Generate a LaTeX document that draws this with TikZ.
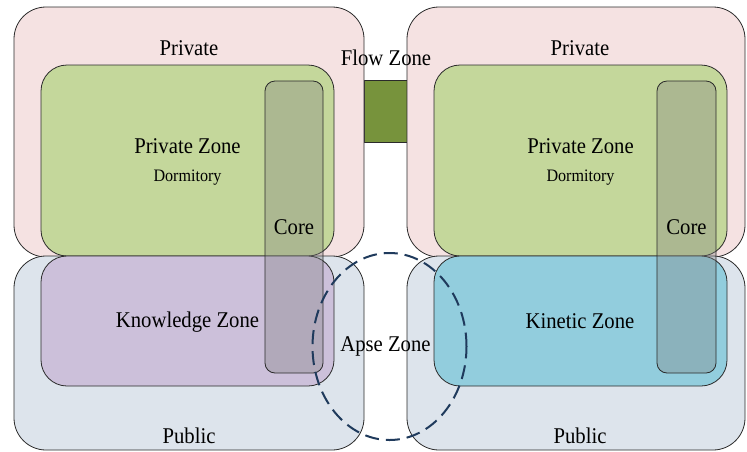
\documentclass[tikz,border=0pt]{standalone}
\usepackage{fontspec}
\setmainfont[FakeStretch=0.92]{Liberation Serif}
\usetikzlibrary{positioning,shapes.geometric}
\definecolor{pinkfill}{HTML}{F5E2E2}
\definecolor{publicfill}{HTML}{DDE4EC}
\definecolor{greenfill}{HTML}{C4D79B}
\definecolor{purplefill}{HTML}{CCC0DA}
\definecolor{kineticfill}{HTML}{92CDDD}
\definecolor{flowfill}{HTML}{77933C}
\definecolor{apsecol}{HTML}{1F3A5C}
\definecolor{edgecol}{HTML}{2A2A2A}
\tikzset{
  zonebox/.style={draw=edgecol, line width=0.8pt, rectangle, inner sep=0pt},
  outerbox/.style={zonebox, rounded corners=32pt},
  innerbox/.style={zonebox, rounded corners=26pt},
  corebox/.style={zonebox, rounded corners=10pt, fill=black!50, fill opacity=0.35},
  lbl/.style={font=\fontsize{22.5}{26}\selectfont, inner sep=0pt, text=black},
  sublbl/.style={font=\fontsize{17.5}{20}\selectfont, inner sep=0pt, text=black},
  apse/.style={draw=apsecol, line width=2pt, dash pattern=on 14pt off 7pt}
}
\begin{document}
\begin{tikzpicture}[x=1pt,y=-1pt]
\useasboundingbox (0,0) rectangle (747,451);
% flow zone connector
\node[zonebox, fill=flowfill, minimum width=43pt, minimum height=62pt] (flow) at (385.5,111) {};
% outer boxes
\node[outerbox, fill=pinkfill, minimum width=350pt, minimum height=250pt] (privL) at (189,132) {};
\node[outerbox, fill=pinkfill, minimum width=338pt, minimum height=250pt] (privR) at (576,132) {};
\node[outerbox, fill=publicfill, minimum width=350pt, minimum height=194pt] (pubL) at (189,353) {};
\node[outerbox, fill=publicfill, minimum width=338pt, minimum height=194pt] (pubR) at (576,353) {};
% inner zones
\node[innerbox, fill=greenfill, minimum width=293pt, minimum height=191pt] (greenL) at (187.5,160.5) {};
\node[innerbox, fill=greenfill, minimum width=293pt, minimum height=191pt] (greenR) at (580.5,160.5) {};
\node[innerbox, fill=purplefill, minimum width=293pt, minimum height=130pt] (know) at (187.5,321) {};
\node[innerbox, fill=kineticfill, minimum width=293pt, minimum height=130pt] (kin) at (580.5,321) {};
% cores
\node[corebox, minimum width=58pt, minimum height=292pt] (coreL) at (294,227) {};
\node[corebox, minimum width=59pt, minimum height=292pt] (coreR) at (686.5,227) {};
% apse zone
\node[apse, ellipse, minimum width=154pt, minimum height=187pt, inner sep=0pt] (apseEl) at (389.5,346.5) {};
% labels
\node[lbl] (tPrivL) at (189,48) {Private};
\node[lbl] (tPrivR) at (580,48) {Private};
\node[lbl] (tFlow) at (386,58) {Flow Zone};
\node[lbl] (tPZL) at (187.5,146) {Private Zone};
\node[sublbl] (tDormL) at (187.5,177.5) {Dormitory};
\node[lbl] (tPZR) at (580.5,146) {Private Zone};
\node[sublbl] (tDormR) at (580.5,177.5) {Dormitory};
\node[lbl] (tCoreL) at (294,227) {Core};
\node[lbl] (tCoreR) at (686.5,227) {Core};
\node[lbl] (tKnow) at (187.5,322) {Knowledge Zone};
\node[lbl] (tKin) at (580,321) {Kinetic Zone};
\node[lbl] (tApse) at (385.5,346) {Apse Zone};
\node[lbl] (tPubL) at (189,436) {Public};
\node[lbl] (tPubR) at (580,436) {Public};
\end{tikzpicture}
\end{document}
